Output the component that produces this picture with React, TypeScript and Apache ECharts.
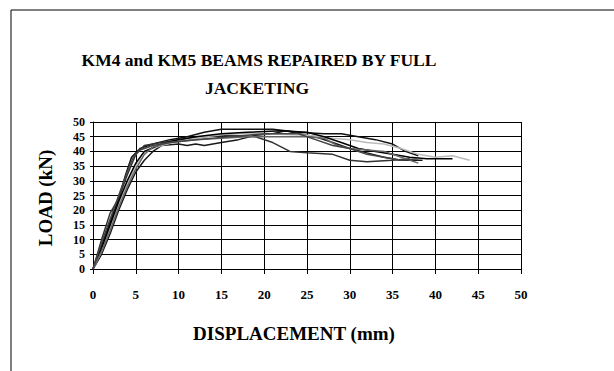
import React, { useEffect, useRef } from "react";
import * as echarts from "echarts";

const xTicks = [0, 5, 10, 15, 20, 25, 30, 35, 40, 45, 50];
const yTicks = [0, 5, 10, 15, 20, 25, 30, 35, 40, 45, 50];

const s1 = [[0,0],[1,8],[2,16],[3,24],[3.8,32],[4.5,38],[5.5,41],[7,42.5],[9,44],[11,45],[13,46.5],[15,47.5],[21,47.5],[24,46.5],[27,46],[29,46],[31,45],[33,44],[35,42.5],[36.5,40],[38,38.5]];
const s2 = [[0,0],[1,10],[2,19],[3,24],[4,32],[5,39],[6,42],[8,43],[10,44],[13,45],[16,45.5],[19,45],[21,43],[23,40],[25,39.5],[28,39],[30,37],[32,36.5],[35,37],[37,37.5]];
const s3 = [[0,0],[1,5],[2,12],[3,20],[4,27],[5,33],[6,37],[7,40],[8,42],[10,42.5],[11,42],[12,42.5],[13,42],[14,42.5],[15,43],[17,44],[19,45.5],[21,46],[22.5,47],[24,46],[26,45],[28,43],[30,41],[32,39.5],[34,38],[36,37],[38.5,37]];
const s4 = [[0,0],[1,6],[2,14],[3,22],[4,29],[5,35],[6,40],[8,42],[10,43.5],[13,45],[16,46],[20,46],[25,45.5],[28,44.5],[30,44],[32,43],[34,42.5],[36,41],[38,39],[40,38],[42,38.5],[44,37]];
const s5 = [[0,0],[1,7],[2,15],[3,23],[4,30],[5,36],[6,40],[8,42.5],[10,44],[12,45],[15,46],[18,46.5],[22,47],[25,46.5],[27,45],[29,43],[31,41],[33,40],[35,39],[37,38],[39,37.5],[42,37.5]];
const s6 = [[0,0],[1,6],[2,13],[3,21],[4,28],[5,34],[6,39],[7,41.5],[9,43],[12,44],[15,44.5],[18,45],[21,45],[25,45],[27,44.5],[28.5,42],[30,41],[32,40.5],[34,40],[36,38],[38,36]];
const s7 = [[0,0],[1,9],[2,17],[3,25],[4,33],[4.7,38],[5.5,40.5],[7,42],[9,43],[12,44],[16,45],[20,46],[24,46],[26,44],[28,42],[30,41],[32,39],[34,38],[36,37],[38,37.5]];

const seriesData = [s1, s2, s3, s4, s5, s6, s7];
const seriesColors = ["#111111", "#333333", "#1a1a1a", "#bbbbbb", "#000000", "#666666", "#444444"];

const titleLines = ["KM4 and KM5 BEAMS REPAIRED BY FULL", "JACKETING"];
const xName = "DISPLACEMENT (mm)";
const yName = "LOAD (kN)";

const FONT = "'Liberation Serif', 'Times New Roman', serif";

export default function App() {
  const ref = useRef<HTMLDivElement>(null);
  useEffect(() => {
    const chart = echarts.init(ref.current!, null, { renderer: "svg" });
    chart.setOption({
      animation: false,
      backgroundColor: "#ffffff",
      grid: { left: 93, top: 122, width: 428, height: 147 },
      xAxis: {
        type: "value",
        min: 0,
        max: 50,
        interval: 5,
        axisLine: { show: true, lineStyle: { color: "#000", width: 1 } },
        axisTick: { show: true, length: 5, lineStyle: { color: "#000" } },
        splitLine: { show: true, lineStyle: { color: "#000", width: 1 } },
        axisLabel: {
          margin: 19,
          fontFamily: FONT,
          fontWeight: "bold",
          fontSize: 13,
          color: "#000",
          formatter: (v: number) => (xTicks.includes(v) ? String(v) : ""),
        },
      },
      yAxis: {
        type: "value",
        min: 0,
        max: 50,
        interval: 5,
        axisLine: { show: true, lineStyle: { color: "#000", width: 1 } },
        axisTick: { show: true, length: 3, lineStyle: { color: "#000" } },
        splitLine: { show: true, lineStyle: { color: "#000", width: 1 } },
        axisLabel: {
          margin: 8,
          fontFamily: FONT,
          fontWeight: "bold",
          fontSize: 12,
          color: "#000",
          formatter: (v: number) => (yTicks.includes(v) ? String(v) : ""),
        },
      },
      series: seriesData.map((d, i) => ({
        type: "line",
        data: d,
        showSymbol: false,
        symbol: "none",
        lineStyle: { color: seriesColors[i], width: 1.5 },
        z: 3,
      })),
      graphic: [
        {
          type: "rect",
          shape: { x: 11, y: 10, width: 700, height: 400 },
          style: { fill: "none", stroke: "#000", lineWidth: 1 },
          silent: true,
        },
        {
          type: "text",
          x: 259,
          y: 60,
          style: {
            text: titleLines[0],
            fontFamily: FONT,
            fontWeight: "bold",
            fontSize: 17.5,
            fill: "#000",
            align: "center",
            verticalAlign: "middle",
          },
        },
        {
          type: "text",
          x: 257,
          y: 88,
          style: {
            text: titleLines[1],
            fontFamily: FONT,
            fontWeight: "bold",
            fontSize: 17.5,
            fill: "#000",
            align: "center",
            verticalAlign: "middle",
          },
        },
        {
          type: "text",
          x: 294,
          y: 333,
          style: {
            text: xName,
            fontFamily: FONT,
            fontWeight: "bold",
            fontSize: 19,
            fill: "#000",
            align: "center",
            verticalAlign: "middle",
          },
        },
        {
          type: "text",
          x: 45,
          y: 198,
          rotation: Math.PI / 2,
          style: {
            text: yName,
            fontFamily: FONT,
            fontWeight: "bold",
            fontSize: 19,
            fill: "#000",
            align: "center",
            verticalAlign: "middle",
          },
        },
      ],
    });
    return () => chart.dispose();
  }, []);
  return (
    <div
      ref={ref}
      style={{ position: "absolute", left: 0, top: 0, width: 614, height: 371 }}
    />
  );
}
